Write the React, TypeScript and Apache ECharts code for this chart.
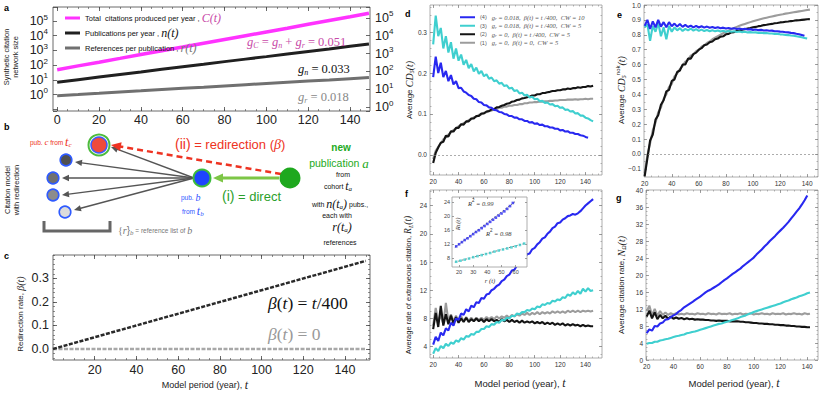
import { useEffect, useRef } from 'react';
import * as echarts from 'echarts';

const SANS = 'Liberation Sans, Arial, Helvetica, sans-serif';
const SERIF = 'Liberation Serif, Times New Roman, Times, serif';

const BLUE = '#2828f0';
const CYAN = '#3fcfcf';
const BLACK = '#141414';
const GRAY = '#9c9c9c';
const PINK = '#ff33ff';
const PINK_TXT = '#c84aa8';
const RED = '#ee3322';
const GREEN = '#2ca02c';

// ---------- panel a (synthetic network size, log scale)
const A_T = [0, 10, 20, 30, 40, 50, 60, 70, 80, 90, 100, 110, 120, 130, 140, 149];
const A_C = [126, 205, 330, 540, 890, 1450, 2340, 3800, 6170, 10000, 16200, 26300, 43700, 70800, 115000, 180000];
const A_N = [25, 35, 49, 68, 93, 132, 182, 251, 355, 490, 676, 955, 1318, 1820, 2570, 3450];
const A_R = [4.4, 5.1, 6.0, 7.1, 8.3, 9.8, 11.5, 13.2, 15.5, 18.2, 21.4, 25.1, 29.5, 33.9, 39.8, 46];
const A_X_TICKS = [0, 20, 40, 60, 80, 100, 120, 140];

// ---------- panel c (redirection rate)
const C_T = [0, 150];
const C_BETA_LIN = [0, 0.375];
const C_BETA_ZERO = [0, 0];
const C_X_TICKS = [20, 40, 60, 80, 100, 120, 140];
const C_Y_TICKS = [0, 0.1, 0.2, 0.3];

// ---------- panels d-g (simulation output, t = 20, 22, ...)
const T_SIM = Array.from({ length: 64 }, (_, i) => 20 + 2 * i);
const SIM_X_TICKS = [20, 40, 60, 80, 100, 120, 140];

const D_BLUE = [0.19, 0.24, 0.2, 0.225, 0.19, 0.205, 0.18, 0.195, 0.172, 0.18, 0.163, 0.164, 0.155, 0.152, 0.146, 0.144, 0.137, 0.136, 0.129, 0.128, 0.122, 0.121, 0.116, 0.115, 0.11, 0.109, 0.105, 0.104, 0.1, 0.099, 0.095, 0.095, 0.091, 0.091, 0.087, 0.087, 0.083, 0.083, 0.079, 0.08, 0.076, 0.077, 0.073, 0.074, 0.07, 0.07, 0.067, 0.067, 0.064, 0.064, 0.06, 0.061, 0.057, 0.058, 0.054, 0.054, 0.051, 0.051, 0.048, 0.047, 0.044, 0.042];
const D_CYAN = [0.27, 0.34, 0.29, 0.31, 0.26, 0.29, 0.25, 0.275, 0.235, 0.26, 0.23, 0.245, 0.22, 0.232, 0.212, 0.222, 0.204, 0.213, 0.198, 0.205, 0.192, 0.197, 0.186, 0.189, 0.18, 0.182, 0.174, 0.176, 0.168, 0.17, 0.162, 0.164, 0.156, 0.158, 0.15, 0.152, 0.145, 0.147, 0.14, 0.142, 0.136, 0.137, 0.131, 0.132, 0.127, 0.128, 0.123, 0.124, 0.119, 0.12, 0.115, 0.116, 0.11, 0.111, 0.106, 0.107, 0.101, 0.102, 0.096, 0.096, 0.091, 0.089, 0.085, 0.082];
const D_BLACK = [-0.02, 0.005, 0.018, 0.03, 0.032, 0.047, 0.045, 0.058, 0.057, 0.066, 0.066, 0.075, 0.074, 0.082, 0.082, 0.089, 0.089, 0.095, 0.095, 0.101, 0.101, 0.106, 0.107, 0.111, 0.112, 0.116, 0.117, 0.12, 0.122, 0.125, 0.126, 0.13, 0.131, 0.134, 0.135, 0.138, 0.139, 0.141, 0.142, 0.145, 0.145, 0.148, 0.148, 0.151, 0.151, 0.153, 0.154, 0.156, 0.156, 0.158, 0.158, 0.16, 0.16, 0.162, 0.161, 0.163, 0.163, 0.165, 0.164, 0.166, 0.166, 0.168, 0.167, 0.169];
const D_GRAY = [-0.01, 0.01, 0.02, 0.028, 0.038, 0.043, 0.05, 0.055, 0.061, 0.064, 0.07, 0.073, 0.078, 0.08, 0.085, 0.087, 0.092, 0.093, 0.098, 0.099, 0.103, 0.104, 0.108, 0.108, 0.112, 0.112, 0.115, 0.115, 0.118, 0.118, 0.12, 0.12, 0.122, 0.122, 0.124, 0.124, 0.126, 0.126, 0.128, 0.128, 0.129, 0.129, 0.13, 0.13, 0.131, 0.131, 0.132, 0.132, 0.133, 0.133, 0.134, 0.134, 0.134, 0.135, 0.135, 0.135, 0.136, 0.135, 0.136, 0.136, 0.137, 0.136, 0.137, 0.137];
const D_Y_TICKS = [0, 0.1, 0.2, 0.3];

const E_BLUE = [0.86, 0.9, 0.84, 0.89, 0.85, 0.9, 0.855, 0.885, 0.85, 0.885, 0.857, 0.875, 0.855, 0.872, 0.853, 0.866, 0.852, 0.862, 0.85, 0.86, 0.849, 0.857, 0.848, 0.855, 0.847, 0.852, 0.845, 0.85, 0.844, 0.848, 0.842, 0.846, 0.841, 0.844, 0.839, 0.842, 0.837, 0.84, 0.835, 0.838, 0.833, 0.835, 0.831, 0.833, 0.829, 0.83, 0.827, 0.828, 0.824, 0.824, 0.821, 0.82, 0.817, 0.816, 0.813, 0.811, 0.807, 0.804, 0.799, 0.794];
const E_CYAN = [0.85, 0.87, 0.76, 0.86, 0.82, 0.88, 0.79, 0.85, 0.77, 0.86, 0.82, 0.85, 0.83, 0.845, 0.825, 0.84, 0.83, 0.842, 0.828, 0.838, 0.826, 0.835, 0.825, 0.832, 0.824, 0.83, 0.823, 0.829, 0.822, 0.827, 0.821, 0.825, 0.82, 0.824, 0.819, 0.822, 0.818, 0.82, 0.816, 0.818, 0.815, 0.816, 0.813, 0.814, 0.811, 0.812, 0.809, 0.809, 0.806, 0.806, 0.803, 0.802, 0.799, 0.798, 0.795, 0.793, 0.79, 0.787, 0.783, 0.779, 0.775];
const E_BLACK = [-0.15, -0.03, 0.09, 0.13, 0.23, 0.26, 0.33, 0.36, 0.42, 0.43, 0.49, 0.5, 0.55, 0.56, 0.6, 0.6, 0.64, 0.64, 0.67, 0.68, 0.7, 0.71, 0.73, 0.735, 0.75, 0.755, 0.77, 0.775, 0.787, 0.79, 0.803, 0.806, 0.816, 0.818, 0.826, 0.828, 0.834, 0.837, 0.842, 0.845, 0.85, 0.853, 0.858, 0.86, 0.865, 0.867, 0.871, 0.873, 0.877, 0.879, 0.883, 0.884, 0.888, 0.889, 0.892, 0.894, 0.897, 0.898, 0.9, 0.902, 0.904, 0.905];
const E_GRAY = [-0.13, -0.01, 0.07, 0.16, 0.21, 0.28, 0.31, 0.37, 0.4, 0.45, 0.47, 0.52, 0.54, 0.57, 0.59, 0.62, 0.63, 0.66, 0.67, 0.69, 0.7, 0.72, 0.73, 0.745, 0.755, 0.77, 0.78, 0.79, 0.8, 0.81, 0.82, 0.828, 0.837, 0.845, 0.853, 0.86, 0.867, 0.873, 0.879, 0.885, 0.891, 0.896, 0.901, 0.906, 0.911, 0.915, 0.919, 0.923, 0.927, 0.931, 0.935, 0.938, 0.942, 0.945, 0.948, 0.951, 0.954, 0.957, 0.96, 0.963, 0.966, 0.969];
const E_Y_TICKS = [-0.1, 0, 0.1, 0.2, 0.3, 0.4, 0.5, 0.6, 0.7, 0.8, 0.9, 1.0];

const F_BLUE = [4.3, 5.4, 4.8, 6.0, 5.6, 6.6, 6.3, 7.4, 7.0, 8.0, 7.8, 8.7, 8.5, 9.3, 9.0, 9.8, 9.6, 10.3, 10.2, 10.9, 10.8, 11.4, 11.5, 12.0, 12.2, 12.6, 12.8, 13.3, 13.5, 14.0, 14.2, 14.8, 14.9, 15.5, 15.7, 16.3, 16.5, 17.1, 17.2, 17.8, 18.0, 18.5, 18.8, 19.3, 19.5, 20.0, 20.3, 20.8, 21.0, 21.5, 21.6, 22.0, 22.2, 22.5, 22.6, 22.8, 22.7, 22.9, 23.2, 23.6, 24.0, 24.3, 24.6, 24.9];
const F_CYAN = [3.0, 3.8, 3.4, 4.1, 3.8, 4.4, 4.1, 4.6, 4.4, 4.9, 4.7, 5.2, 5.0, 5.5, 5.4, 5.8, 5.7, 6.1, 6.1, 6.5, 6.5, 6.9, 6.8, 7.2, 7.1, 7.5, 7.4, 7.8, 7.7, 8.1, 8.0, 8.4, 8.3, 8.7, 8.6, 8.9, 8.9, 9.2, 9.1, 9.4, 9.3, 9.7, 9.6, 10.0, 9.9, 10.2, 10.1, 10.5, 10.4, 10.7, 10.6, 11.0, 10.9, 11.4, 11.2, 11.7, 11.4, 11.9, 11.5, 12.2, 11.8, 12.3, 11.9, 12.0];
const F_BLACK = [6.5, 8.8, 6.8, 9.8, 7.0, 8.6, 7.2, 8.4, 7.3, 8.2, 7.4, 8.0, 7.5, 8.1, 7.5, 7.9, 7.6, 8.0, 7.6, 7.9, 7.5, 7.9, 7.6, 7.9, 7.6, 7.8, 7.5, 7.9, 7.6, 7.8, 7.5, 7.8, 7.5, 7.7, 7.4, 7.7, 7.4, 7.6, 7.4, 7.6, 7.3, 7.5, 7.3, 7.5, 7.2, 7.4, 7.2, 7.4, 7.1, 7.3, 7.1, 7.3, 7.0, 7.2, 7.0, 7.2, 7.0, 7.1, 6.9, 7.1, 6.9, 7.0, 6.9, 6.9];
const F_GRAY = [7.0, 9.5, 7.5, 8.5, 7.2, 10.2, 7.6, 8.6, 7.6, 8.4, 7.5, 8.3, 7.6, 8.2, 7.7, 8.1, 7.7, 8.1, 7.8, 8.1, 7.8, 8.2, 7.9, 8.2, 7.9, 8.3, 8.0, 8.3, 8.1, 8.4, 8.1, 8.5, 8.3, 8.6, 8.4, 8.7, 8.5, 8.8, 8.5, 8.8, 8.6, 8.9, 8.6, 8.9, 8.7, 8.9, 8.7, 9.0, 8.8, 9.0, 8.8, 9.0, 8.8, 9.1, 8.9, 9.1, 8.9, 9.1, 8.9, 9.1, 9.0, 9.1, 9.0, 9.1];
const F_Y_TICKS = [4, 8, 12, 16, 20, 24];

const G_BLUE = [6.3, 7.2, 6.9, 8.0, 7.9, 8.6, 8.8, 9.5, 9.6, 10.1, 10.5, 10.8, 11.4, 11.8, 12.4, 12.8, 13.2, 13.6, 14.1, 14.5, 14.9, 15.4, 15.9, 16.3, 16.6, 17.0, 17.4, 17.8, 18.3, 18.8, 19.2, 19.7, 20.2, 20.6, 21.1, 21.5, 22.1, 22.6, 23.1, 23.6, 24.1, 24.8, 25.4, 26.0, 26.7, 27.3, 28.0, 28.6, 29.2, 29.9, 30.5, 31.1, 31.8, 32.5, 33.3, 34.1, 34.9, 35.7, 36.6, 37.6, 38.7];
const G_CYAN = [3.8, 4.0, 4.0, 4.3, 4.3, 4.6, 4.7, 4.9, 5.0, 5.2, 5.4, 5.6, 5.7, 5.9, 6.0, 6.3, 6.4, 6.6, 6.7, 6.9, 7.1, 7.3, 7.5, 7.7, 7.9, 8.1, 8.3, 8.5, 8.6, 8.8, 9.0, 9.2, 9.4, 9.6, 9.8, 10.1, 10.3, 10.5, 10.8, 11.0, 11.3, 11.5, 11.7, 11.9, 12.1, 12.3, 12.5, 12.7, 12.9, 13.1, 13.3, 13.6, 13.8, 14.0, 14.3, 14.5, 14.7, 15.0, 15.2, 15.4, 15.7, 15.9];
const G_BLACK = [10.2, 11.6, 9.8, 11.2, 9.6, 10.6, 9.8, 10.4, 9.7, 10.2, 9.7, 10.0, 9.7, 9.9, 9.6, 9.8, 9.6, 9.7, 9.5, 9.6, 9.5, 9.5, 9.4, 9.4, 9.3, 9.3, 9.2, 9.3, 9.2, 9.2, 9.2, 9.1, 9.1, 9.1, 9.1, 9.0, 9.0, 8.9, 8.9, 8.8, 8.7, 8.7, 8.6, 8.6, 8.5, 8.5, 8.4, 8.4, 8.3, 8.3, 8.2, 8.2, 8.1, 8.1, 8.0, 8.0, 7.9, 7.9, 7.8, 7.8, 7.7, 7.7];
const G_GRAY = [11.5, 12.8, 10.5, 12.0, 10.4, 11.5, 10.6, 11.2, 10.6, 11.0, 10.7, 11.0, 10.7, 10.9, 10.7, 11.0, 10.8, 10.9, 10.7, 11.0, 10.8, 10.9, 10.7, 11.0, 10.8, 10.9, 10.7, 11.0, 10.8, 10.9, 10.8, 11.0, 10.7, 10.9, 10.8, 11.0, 10.7, 10.9, 10.8, 11.0, 10.7, 10.9, 10.8, 11.0, 10.8, 10.9, 10.7, 11.0, 10.8, 10.9, 10.8, 11.0, 10.7, 10.9, 10.8, 11.0, 10.8, 10.9, 10.7, 11.0, 10.8, 10.9];
const G_Y_TICKS = [0, 4, 8, 12, 16, 20, 24, 28, 32, 36, 40];

// ---------- inset of f: R_L vs r
const INSET_BLUE_R = [18, 20, 22, 24, 26, 28, 30, 32, 34, 36, 38, 40, 42, 44, 46, 48, 50, 52, 54, 56, 58];
const INSET_BLUE_RL = [11.4, 12.0, 12.6, 13.2, 13.7, 14.3, 14.9, 15.5, 16.0, 16.6, 17.2, 17.8, 18.4, 19.0, 19.6, 20.2, 20.8, 21.4, 22.1, 22.9, 23.8];
const INSET_CYAN_R = [18, 21, 24, 27, 30, 33, 36, 39, 42, 45, 48, 51, 54, 57, 60, 63, 66];
const INSET_CYAN_RL = [7.0, 7.3, 7.6, 7.9, 8.3, 8.6, 8.9, 9.2, 9.5, 9.9, 10.2, 10.5, 10.8, 11.1, 11.4, 11.8, 12.2];
const INSET_FIT_BLUE_R = [17, 60];
const INSET_FIT_BLUE_RL = [11.1, 24.3];
const INSET_FIT_CYAN_R = [17, 67];
const INSET_FIT_CYAN_RL = [6.9, 12.3];
const INSET_X_TICKS = [20, 30, 40, 50, 60];
const INSET_Y_TICKS = [8, 12, 16, 20, 24];

// ---------- helpers
const range = (a: number, b: number, s: number) => {
  const out: number[] = [];
  for (let v = a; v <= b + 1e-9; v += s) out.push(+v.toFixed(4));
  return out;
};
const pair = (xs: number[], ys: number[]) => ys.map((y, i) => [xs[i], y]);

interface FrameSpec {
  grid: number; min: number; max: number; major: number[]; minor?: number[];
  labels: string[]; fontSize: number; color: string; tick: string; len: number; margin: number;
  fmt?: (v: number) => string; z?: number;
}
function frame(list: any[], dim: 'x' | 'y', s: FrameSpec): number {
  const sides = dim === 'x' ? ['bottom', 'top'] : ['left', 'right'];
  let main = -1;
  for (const pos of sides) {
    const common: any = {
      type: 'value', gridIndex: s.grid, position: pos, min: s.min, max: s.max, z: s.z ?? 0,
      axisLine: { show: false, onZero: false }, splitLine: { show: false },
    };
    list.push({
      ...common,
      axisTick: { show: true, inside: true, length: s.len, customValues: s.major, lineStyle: { color: s.tick, width: 0.8 } },
      axisLabel: {
        show: s.labels.includes(pos), customValues: s.major, fontSize: s.fontSize, color: s.color,
        fontFamily: SANS, margin: s.margin, formatter: s.fmt,
      },
    });
    if (pos === sides[0]) main = list.length - 1;
    if (s.minor) {
      list.push({
        ...common,
        axisTick: { show: true, inside: true, length: s.len * 0.5, customValues: s.minor, lineStyle: { color: s.tick, width: 0.6 } },
        axisLabel: { show: false },
      });
    }
  }
  return main;
}

const logFmt = (v: number) => {
  const e = Math.log10(v);
  const r = Math.round(e);
  if (Math.abs(e - r) > 1e-6 || r < 0) return '';
  return '10{e|' + r + '}';
};
const LOG_RICH = { e: { fontSize: 8, fontFamily: SANS, color: '#222', padding: [0, 0, 8, 0] } };

const it = (size: number, extra: any = {}) => ({ fontSize: size, fontFamily: SERIF, fontStyle: 'italic', ...extra });
const rm = (size: number, extra: any = {}) => ({ fontSize: size, fontFamily: SERIF, ...extra });
const sn = (size: number, extra: any = {}) => ({ fontSize: size, fontFamily: SANS, ...extra });
const sub = (size: number, drop: number, extra: any = {}) => ({ fontSize: size, fontFamily: SERIF, fontStyle: 'italic', padding: [drop, 0, 0, 0], ...extra });

function txt(x: number, y: number, text: string, fill: string, fontSize: number, extra: any = {}, rich?: any, rotation = 0) {
  return {
    type: 'text', x, y, rotation, z: 100, silent: true,
    style: { text, fill, fontSize, fontFamily: SANS, align: 'left', verticalAlign: 'middle', rich, ...extra },
  };
}

function arrow(x1: number, y1: number, x2: number, y2: number, color: string, width: number, head: number, dash?: number[]) {
  const dx = x2 - x1, dy = y2 - y1, L = Math.hypot(dx, dy), ux = dx / L, uy = dy / L;
  const bx = x2 - ux * head, by = y2 - uy * head, px = -uy, py = ux;
  return [
    { type: 'line', z: 90, silent: true, shape: { x1, y1, x2: x2 - ux * head * 0.7, y2: y2 - uy * head * 0.7 }, style: { stroke: color, lineWidth: width, lineDash: dash } },
    { type: 'polygon', z: 91, silent: true, shape: { points: [[x2, y2], [bx + px * head * 0.45, by + py * head * 0.45], [bx - px * head * 0.45, by - py * head * 0.45]] }, style: { fill: color } },
  ];
}

function circle(cx: number, cy: number, r: number, fill: string, stroke?: string, lw = 0) {
  return { type: 'circle', z: 95, silent: true, shape: { cx, cy, r }, style: { fill, stroke, lineWidth: lw } };
}

const A_LEGEND: Record<string, string> = {
  C: 'Total  citations produced per year , {pc|C(t)}',
  n: 'Publications per year , {pn|n(t)}',
  r: 'References per publication , {pr|r(t)}',
};
const D_LEGEND: Record<string, string> = {
  L4: '{n|(4)}   {i|g}{b|r}{i| = 0.018,  β(t) = t /400,  CW = 10}',
  L3: '{n|(3)}   {i|g}{b|r}{i| = 0.018,  β(t) = t /400,  CW = 5}',
  L2: '{n|(2)}   {i|g}{b|r}{i| = 0,  β(t) = t /400,  CW = 5}',
  L1: '{n|(1)}   {i|g}{b|r}{i| = 0,  β(t) = 0,  CW = 5}',
};

function buildOption() {
  const xAxes: any[] = [];
  const yAxes: any[] = [];
  const grids = [
    { left: 53, top: 7, width: 317, height: 104, border: '#444' },   // a
    { left: 53, top: 255, width: 317, height: 105, border: '#444' }, // c
    { left: 430, top: 5, width: 172, height: 170, border: '#999' },  // d
    { left: 644, top: 5, width: 174, height: 172, border: '#999' },  // e
    { left: 430, top: 190, width: 172, height: 168, border: '#999' }, // f
    { left: 646, top: 190, width: 172, height: 170, border: '#999' }, // g
    { left: 452, top: 197, width: 75, height: 70, border: '#999', z: 5, bg: '#fff' }, // inset
  ];

  // a
  const xA = frame(xAxes, 'x', { grid: 0, min: -2, max: 149.5, major: A_X_TICKS, minor: range(0, 145, 5), labels: ['bottom'], fontSize: 12.5, color: '#222', tick: '#444', len: 4, margin: 2 });
  const logAxis = (pos: string, min: number, max: number) => ({
    type: 'log', logBase: 10, gridIndex: 0, position: pos, min, max,
    axisLine: { show: false, onZero: false }, splitLine: { show: false },
    axisTick: { show: true, inside: true, length: 4, lineStyle: { color: '#444', width: 0.8 } },
    axisLabel: { fontSize: 12.5, color: '#222', fontFamily: SANS, margin: 5, formatter: logFmt, rich: LOG_RICH, hideOverlap: false },
  });
  yAxes.push(logAxis('left', 0.079, 8.9e5));
  const yA = yAxes.length;
  yAxes.push(logAxis('right', 0.62, 4e5));

  // c
  const xC = frame(xAxes, 'x', { grid: 1, min: 0, max: 152, major: C_X_TICKS, minor: range(5, 150, 5), labels: ['bottom'], fontSize: 12.5, color: '#222', tick: '#444', len: 4, margin: 3 });
  const yC = frame(yAxes, 'y', { grid: 1, min: -0.047, max: 0.4, major: C_Y_TICKS, minor: range(-0.04, 0.4, 0.02), labels: ['left'], fontSize: 12.5, color: '#222', tick: '#444', len: 4, margin: 4, fmt: (v) => v.toFixed(1) });

  const small = { fontSize: 6.5, color: '#333', tick: '#888', len: 3, margin: 3 };
  // d
  const xD = frame(xAxes, 'x', { grid: 2, min: 17.5, max: 153, major: SIM_X_TICKS, minor: range(20, 150, 5), labels: ['bottom'], ...small });
  const yD = frame(yAxes, 'y', { grid: 2, min: -0.049, max: 0.366, major: D_Y_TICKS, minor: range(-0.04, 0.36, 0.02), labels: ['left'], ...small, fmt: (v) => v.toFixed(1) });
  // e
  const xE = frame(xAxes, 'x', { grid: 3, min: 19.5, max: 148, major: SIM_X_TICKS, minor: range(20, 145, 5), labels: ['bottom'], ...small });
  const yE = frame(yAxes, 'y', { grid: 3, min: -0.155, max: 1.0, major: E_Y_TICKS, minor: range(-0.15, 1.0, 0.05), labels: ['left'], ...small, fmt: (v) => v.toFixed(1).replace('-', '−') });
  // f
  const xF = frame(xAxes, 'x', { grid: 4, min: 17.5, max: 153, major: SIM_X_TICKS, minor: range(20, 150, 5), labels: ['bottom'], ...small });
  const yF = frame(yAxes, 'y', { grid: 4, min: 2.4, max: 26.2, major: F_Y_TICKS, minor: range(3, 26, 1), labels: ['left'], ...small });
  // g
  const xG = frame(xAxes, 'x', { grid: 5, min: 19.5, max: 148, major: SIM_X_TICKS, minor: range(20, 145, 5), labels: ['bottom'], ...small });
  const yG = frame(yAxes, 'y', { grid: 5, min: 0, max: 40, major: G_Y_TICKS, minor: range(1, 39, 1), labels: ['left'], ...small });
  // inset
  const tiny = { fontSize: 5.5, color: '#444', tick: '#888', len: 2, margin: 2, z: 6 };
  const xI = frame(xAxes, 'x', { grid: 6, min: 15, max: 68, major: INSET_X_TICKS, labels: ['bottom'], ...tiny });
  const yI = frame(yAxes, 'y', { grid: 6, min: 5.5, max: 25.5, major: INSET_Y_TICKS, labels: ['left'], ...tiny });

  const line = (name: string, xi: number, yi: number, data: any[], color: string, width: number, extra: any = {}) => ({
    type: 'line', name, xAxisIndex: xi, yAxisIndex: yi, data, showSymbol: false, symbol: 'none', silent: true,
    lineStyle: { color, width }, itemStyle: { color }, ...extra,
  });
  const zeroLine = {
    silent: true, symbol: 'none', label: { show: false },
    lineStyle: { type: [2, 2], color: '#888', width: 0.7 }, data: [{ yAxis: 0 }],
  };
  const W = 2.1;

  const series: any[] = [
    // a
    line('C', xA, yA, pair(A_T, A_C), PINK, 3.5),
    line('n', xA, yA, pair(A_T, A_N), '#202020', 3),
    line('r', xA, yA, pair(A_T, A_R), '#707070', 3),
    // c
    line('beta0', xC, yC, pair(C_T, C_BETA_ZERO), '#a8a8a8', 2.5, { lineStyle: { color: '#a8a8a8', width: 2.5, type: [4, 1.5] } }),
    line('beta1', xC, yC, pair(C_T, C_BETA_LIN), '#2a2a2a', 2.5, { lineStyle: { color: '#2a2a2a', width: 2.5, type: [4, 1.5] } }),
    // d
    line('L1', xD, yD, pair(T_SIM, D_GRAY), GRAY, W, { markLine: zeroLine }),
    line('L2', xD, yD, pair(T_SIM, D_BLACK), BLACK, W),
    line('L3', xD, yD, pair(T_SIM, D_CYAN), CYAN, W),
    line('L4', xD, yD, pair(T_SIM, D_BLUE), BLUE, W),
    // e
    line('L1', xE, yE, pair(T_SIM, E_GRAY), GRAY, W, { markLine: zeroLine }),
    line('L2', xE, yE, pair(T_SIM, E_BLACK), BLACK, W),
    line('L3', xE, yE, pair(T_SIM, E_CYAN), CYAN, W),
    line('L4', xE, yE, pair(T_SIM, E_BLUE), BLUE, W),
    // f
    line('L1', xF, yF, pair(T_SIM, F_GRAY), GRAY, W),
    line('L2', xF, yF, pair(T_SIM, F_BLACK), BLACK, W),
    line('L3', xF, yF, pair(T_SIM, F_CYAN), CYAN, W),
    line('L4', xF, yF, pair(T_SIM, F_BLUE), BLUE, W),
    // g
    line('L1', xG, yG, pair(T_SIM, G_GRAY), GRAY, W),
    line('L2', xG, yG, pair(T_SIM, G_BLACK), BLACK, W),
    line('L3', xG, yG, pair(T_SIM, G_CYAN), CYAN, W),
    line('L4', xG, yG, pair(T_SIM, G_BLUE), BLUE, W),
    // inset
    line('fitB', xI, yI, pair(INSET_FIT_BLUE_R, INSET_FIT_BLUE_RL), '#555', 0.8, { z: 7, lineStyle: { color: '#555', width: 0.8, type: [2, 1.5] } }),
    line('fitC', xI, yI, pair(INSET_FIT_CYAN_R, INSET_FIT_CYAN_RL), '#555', 0.8, { z: 7, lineStyle: { color: '#555', width: 0.8, type: [2, 1.5] } }),
    { type: 'scatter', name: 'inB', xAxisIndex: xI, yAxisIndex: yI, data: pair(INSET_BLUE_R, INSET_BLUE_RL), symbol: 'rect', symbolSize: 2.6, itemStyle: { color: BLUE }, z: 8, silent: true },
    { type: 'scatter', name: 'inC', xAxisIndex: xI, yAxisIndex: yI, data: pair(INSET_CYAN_R, INSET_CYAN_RL), symbol: 'rect', symbolSize: 2.6, itemStyle: { color: CYAN }, z: 8, silent: true },
  ];

  // ---------- graphic: labels, titles and the panel-b diagram
  const g: any[] = [];
  const letter = (x: number, y: number, s: string) => g.push(txt(x, y, s, '#000', 9, { fontWeight: 'bold' }));
  letter(4, 8, 'a'); letter(4, 127, 'b'); letter(4, 256, 'c');
  letter(405, 14, 'd'); letter(617, 15, 'e'); letter(405, 194, 'f'); letter(616, 198, 'g');

  const rot = Math.PI / 2;
  g.push(txt(11, 57, 'Synthetic citation\nnetwork size', '#222', 7.5, { align: 'center', lineHeight: 9 }, undefined, rot));
  g.push(txt(12, 190, 'Citation model\nwith redirection', '#222', 7.5, { align: 'center', lineHeight: 9 }, undefined, rot));
  g.push(txt(20, 314, '{s|Redirection rate, }{i|β(t)}', '#222', 8, { align: 'center' }, { s: sn(8), i: it(10) }, rot));
  g.push(txt(205, 385, '{s|Model period (year), }{i|t}', '#222', 9, { align: 'center' }, { s: sn(9), i: it(12) }));
  g.push(txt(520, 383, '{s|Model period (year), }{i|t}', '#222', 9.5, { align: 'center' }, { s: sn(9.5), i: it(12) }));
  g.push(txt(734, 383, '{s|Model period (year), }{i|t}', '#222', 9.5, { align: 'center' }, { s: sn(9.5), i: it(12) }));
  g.push(txt(409, 90, '{s|Average }{i|CD}{b|5}{i|(t)}', '#222', 8, { align: 'center' }, { s: sn(8), i: it(10), b: sub(6, 5) }, rot));
  g.push(txt(621, 90, '{s|Average }{i|CD}{b|5}{p|nok}{i|(t)}', '#222', 8, { align: 'center' }, { s: sn(8), i: it(10), b: sub(6, 5), p: { ...sn(6), padding: [0, 0, 7, 0] } }, rot));
  g.push(txt(408, 285, '{s|Average rate of extraneous citation, }{i|R}{b|L}{i|(t)}', '#222', 7.5, { align: 'center' }, { s: sn(7.5), i: it(9.5), b: sub(6, 5) }, rot));
  g.push(txt(621, 285, '{s|Average citation rate, }{i|N}{b|Ω}{i|(t)}', '#222', 8, { align: 'center' }, { s: sn(8), i: it(10), b: sub(6, 5) }, rot));
  // inset titles and fit annotations
  g.push(txt(457, 224, '{i|R}{b|L}{i|(t)}', '#333', 6, { align: 'center' }, { i: it(6.5), b: sub(4.5, 3) }, rot));
  g.push(txt(490, 280, '{i|r (t)}', '#333', 6, { align: 'center' }, { i: it(6.5) }));
  g.push(txt(468, 203, '{i|R}{p|2}{i| = 0.99}', '#333', 6, {}, { i: it(6.5), p: { ...sn(4.5), padding: [0, 0, 5, 0] } }));
  g.push(txt(486, 233, '{i|R}{p|2}{i| = 0.98}', '#333', 6, {}, { i: it(6.5), p: { ...sn(4.5), padding: [0, 0, 5, 0] } }));

  // panel a growth-rate annotations
  g.push(txt(247, 42, '{i|g}{b|C}{r| = }{i|g}{b|n}{r| + }{i|g}{b|r}{r| = 0.051}', PINK_TXT, 12, {}, { i: it(12.5), r: rm(12.5), b: sub(8, 6) }));
  g.push(txt(298, 69, '{i|g}{b|n}{r| = 0.033}', '#111', 12, {}, { i: it(12.5), r: rm(12.5), b: sub(8, 6) }));
  g.push(txt(298, 97, '{i|g}{b|r}{r| = 0.018}', '#888', 12, {}, { i: it(12.5), r: rm(12.5), b: sub(8, 6) }));

  // panel c annotations
  g.push(txt(268, 303, '{i|β}{r|(}{i|t}{r|) = }{i|t}{r|/400}', '#111', 17, {}, { i: it(17.5), r: rm(17.5) }));
  g.push(txt(268, 334, '{i|β}{r|(}{i|t}{r|) = 0}', '#999', 17, {}, { i: it(17.5), r: rm(17.5) }));

  // ---- panel b diagram
  const SRC = [194, 178];
  g.push(...arrow(SRC[0], SRC[1], 111, 147, '#555', 1.4, 7));
  g.push(...arrow(SRC[0], SRC[1], 75, 162, '#555', 1.4, 7));
  g.push(...arrow(SRC[0], SRC[1], 62, 178, '#555', 1.4, 7));
  g.push(...arrow(SRC[0], SRC[1], 62, 195, '#555', 1.4, 7));
  g.push(...arrow(SRC[0], SRC[1], 74, 210, '#555', 1.4, 7));
  g.push(...arrow(281, 174, 111, 145, RED, 2.5, 10, [6, 4]));
  g.push(...arrow(279, 178, 213, 178, '#7dc646', 3, 10));
  g.push(circle(99, 145, 10.5, 'none', '#4dbb3d', 2));
  g.push(circle(99, 145, 8, '#ef4b3c', '#3a5bff', 1.5));
  g.push(circle(66, 160, 5.8, '#505050', '#2f5bff', 1.6));
  g.push(circle(53, 178, 5.8, '#707070', '#2f5bff', 1.6));
  g.push(circle(53, 195, 5.8, '#8c8c8c', '#2f5bff', 1.6));
  g.push(circle(65, 212, 5.8, '#dcdcdc', '#2f5bff', 1.6));
  g.push(circle(202, 178, 8.5, '#1e44ff', '#3cbb3c', 2));
  g.push(circle(290, 178, 10.5, '#1ea81e'));
  // bracket
  g.push({ type: 'polyline', z: 90, silent: true, shape: { points: [[44, 221], [44, 231], [110, 231], [110, 221]] }, style: { stroke: '#666', lineWidth: 3, fill: 'none' } });

  g.push(txt(175, 144, '{a|(ii)}{t| = redirection (}{b|β}{t|)}', RED, 13, {}, { a: sn(14), t: sn(13), b: it(14) }));
  g.push(txt(222, 196, '{a|(i)}{t| = direct}', GREEN, 13, {}, { a: sn(14), t: sn(13) }));
  g.push(txt(30, 142, '{s|pub. }{i|c}{s| from }{l|t}{b|c}', RED, 6.5, {}, { s: sn(6.5), i: it(9), l: it(12), b: sub(7, 5) }));
  g.push(txt(181, 197, '{s|pub. }{i|b}', '#3355ff', 6.5, {}, { s: sn(6.5), i: it(10) }));
  g.push(txt(182, 211, '{s|from }{l|t}{b|b}', '#3355ff', 6.5, {}, { s: sn(6.5), l: it(12), b: sub(7, 5) }));
  g.push(txt(118, 230, '{br|{}{i|r}}{b|b}{s| = reference list of }{i|b}', '#777', 10, {}, { br: rm(10), i: it(10), b: sub(7, 5), s: sn(6.5) }));

  // green/black description of new publication a
  g.push(txt(341, 147, 'new', '#22aa22', 10, { align: 'center', fontWeight: 'bold' }));
  g.push(txt(339, 163, '{g|publication }{i|a}', '#22aa22', 11, { align: 'center' }, { g: sn(10.5), i: it(13) }));
  g.push(txt(343, 174, 'from', '#111', 7, { align: 'center' }));
  g.push(txt(338, 186, '{s|cohort }{l|t}{b|a}', '#111', 7, { align: 'center' }, { s: sn(7), l: it(12), b: sub(7, 5) }));
  g.push(txt(340, 204, '{s|with }{l|n(t}{b|a}{l|)}{s| pubs.,}', '#111', 7, { align: 'center' }, { s: sn(7), l: it(12), b: sub(7, 5) }));
  g.push(txt(337, 215, 'each with', '#111', 7, { align: 'center' }));
  g.push(txt(342, 227, '{l|r(t}{b|a}{l|)}', '#111', 7, { align: 'center' }, { l: it(12), b: sub(7, 5) }));
  g.push(txt(340, 242, 'references', '#111', 7, { align: 'center' }));

  return {
    animation: false,
    backgroundColor: '#fff',
    grid: grids.map((gr) => ({
      left: gr.left, top: gr.top, width: gr.width, height: gr.height, show: true,
      borderColor: gr.border, borderWidth: 0.8, backgroundColor: gr.bg ?? 'transparent', z: gr.z ?? 0,
    })),
    xAxis: xAxes,
    yAxis: yAxes,
    legend: [
      {
        data: ['C', 'n', 'r'], left: 60, top: 6, orient: 'vertical', icon: 'rect', itemWidth: 15, itemHeight: 3,
        itemGap: 1, selectedMode: false, formatter: (n: string) => A_LEGEND[n],
        textStyle: {
          fontFamily: SANS, fontSize: 7.5, color: '#111', lineHeight: 14,
          rich: {
            pc: it(12, { color: PINK_TXT }), pn: it(12, { color: '#111' }), pr: it(12, { color: '#777' }),
          },
        },
      },
      {
        data: ['L4', 'L3', 'L2', 'L1'], left: 455, top: 8, orient: 'vertical', icon: 'rect', itemWidth: 15, itemHeight: 2,
        itemGap: 0, selectedMode: false, formatter: (n: string) => D_LEGEND[n],
        textStyle: {
          fontFamily: SANS, fontSize: 6, color: '#555', lineHeight: 8.5,
          rich: { n: sn(5.5, { color: '#555' }), i: it(6.5, { color: '#555' }), b: sub(4.5, 3, { color: '#555' }) },
        },
      },
    ],
    graphic: g,
    series,
  };
}

export default function App() {
  const ref = useRef<HTMLDivElement>(null);
  useEffect(() => {
    if (!ref.current) return;
    const chart = echarts.init(ref.current, undefined, { renderer: 'svg' });
    chart.setOption(buildOption() as any);
    return () => chart.dispose();
  }, []);
  return <div ref={ref} style={{ position: 'fixed', left: 0, top: 0, width: 822, height: 395, background: '#fff' }} />;
}
